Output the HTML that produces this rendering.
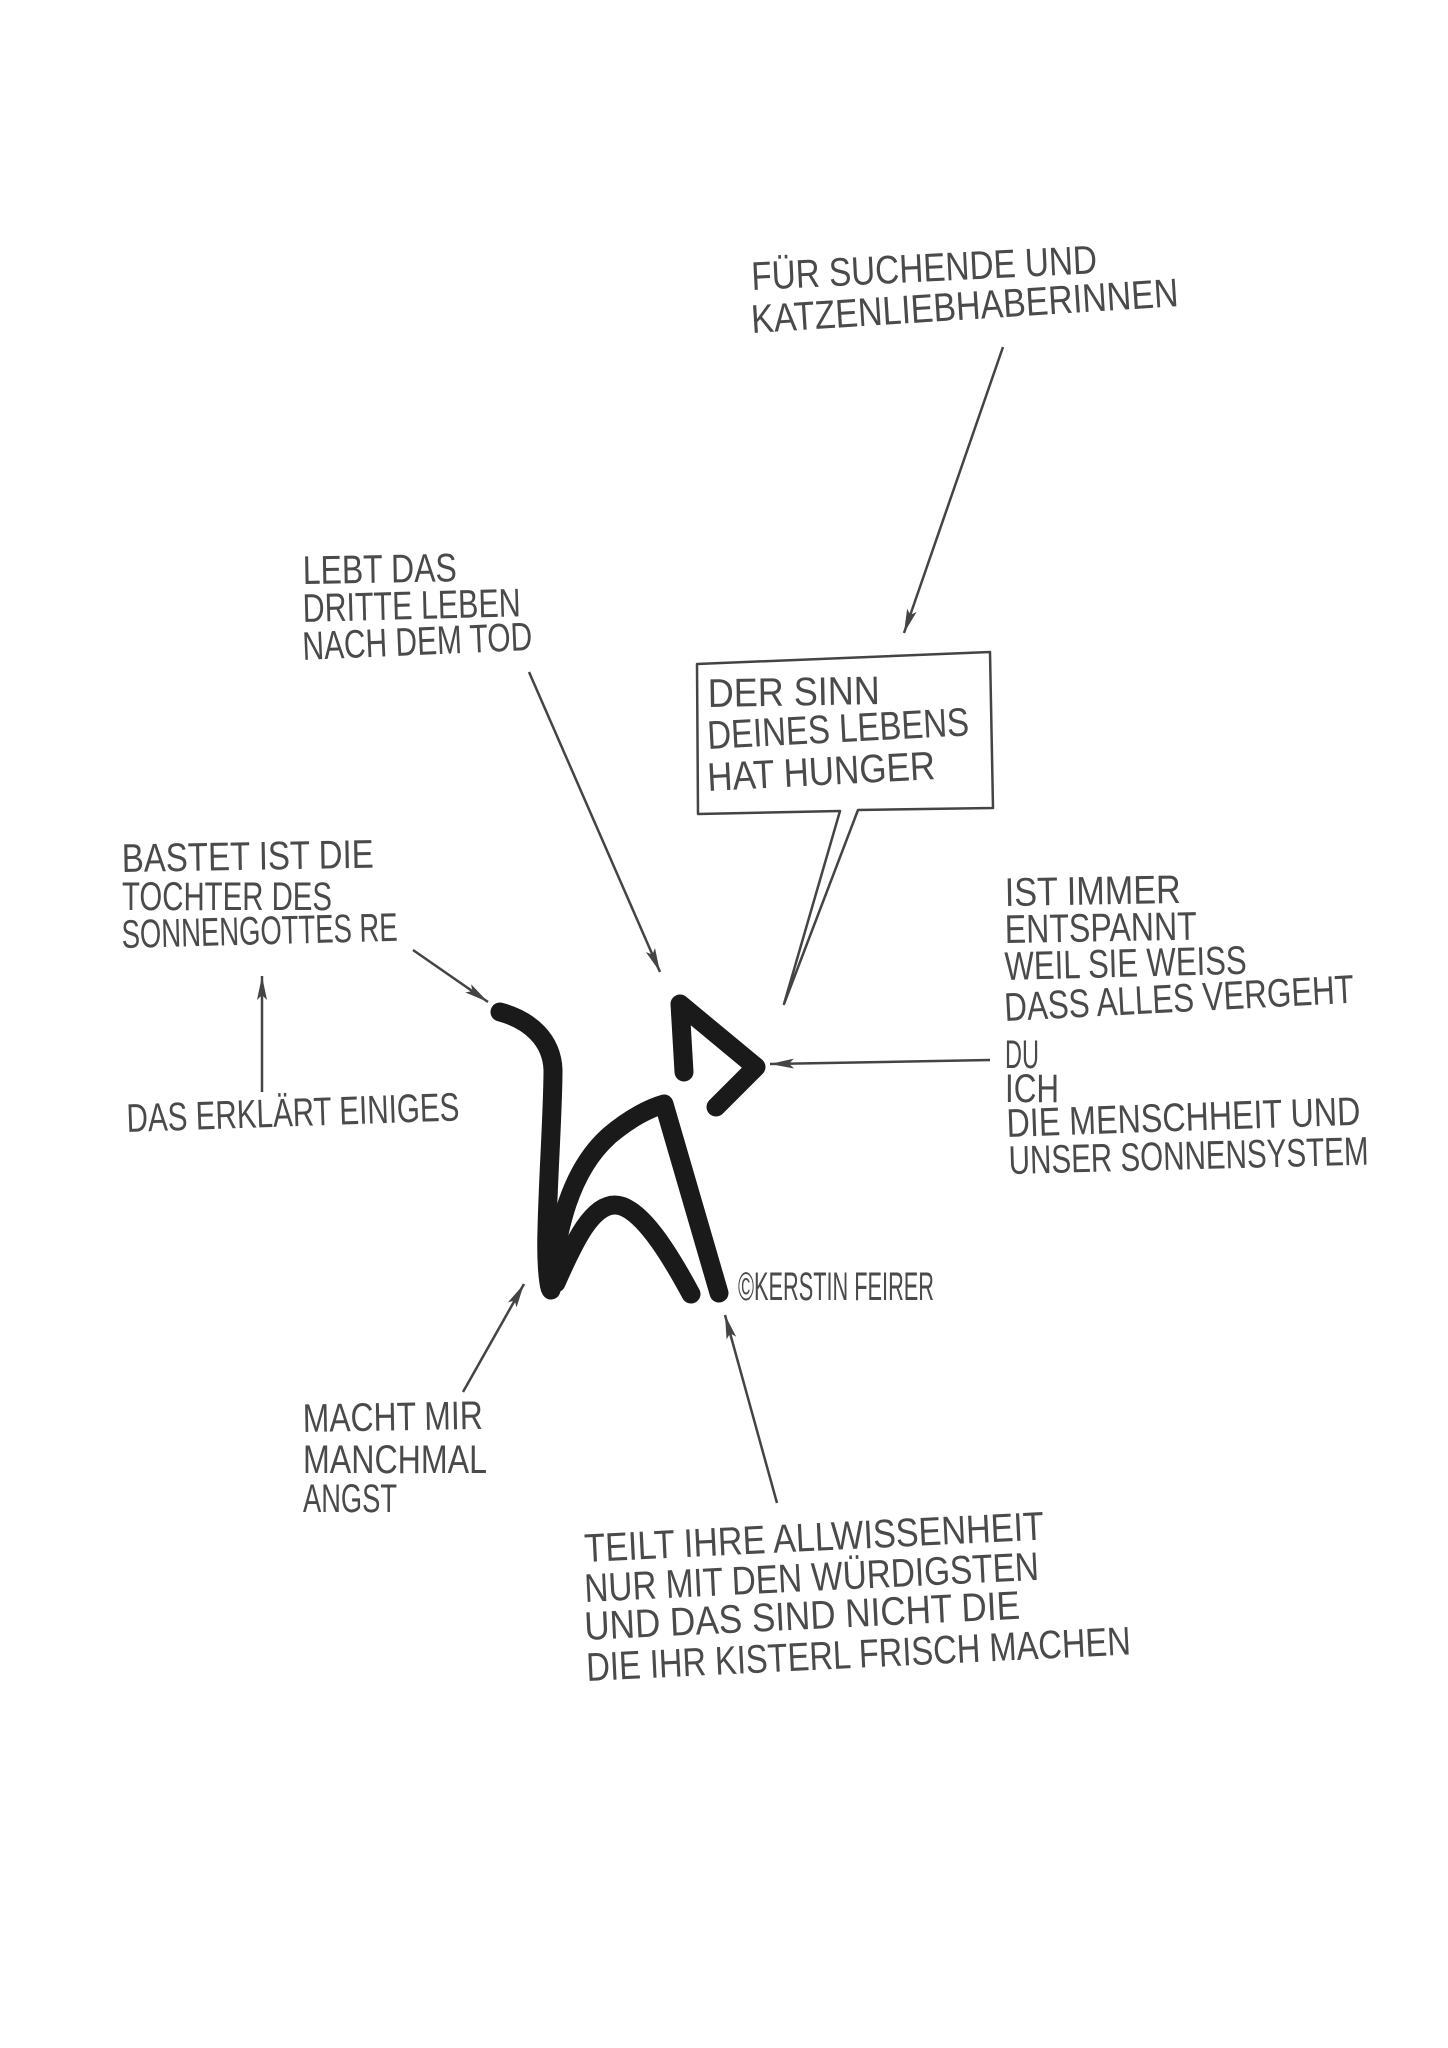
<!DOCTYPE html>
<html><head><meta charset="utf-8">
<style>
html,body{margin:0;padding:0;background:#fff;}
svg{display:block;}
text{font-family:"Liberation Sans Narrow","Liberation Sans",sans-serif;fill:#4a4a4a;font-size:40px;}
</style></head>
<body>
<svg width="1448" height="2048" viewBox="0 0 1448 2048" xmlns="http://www.w3.org/2000/svg">
<defs>
<marker id="ah" viewBox="0 0 24 10" refX="24" refY="5" markerWidth="24" markerHeight="10" markerUnits="userSpaceOnUse" orient="auto">
<path d="M0,0 L24,5 L0,10 L5,5 z" fill="#444"/>
</marker>
</defs>
<rect width="1448" height="2048" fill="#fff"/>

<text x="752" y="290" textLength="346" lengthAdjust="spacingAndGlyphs" transform="rotate(-2.8 752 290)">FÜR SUCHENDE UND</text>
<text x="752" y="333" textLength="428" lengthAdjust="spacingAndGlyphs" transform="rotate(-3.6 752 333)">KATZENLIEBHABERINNEN</text>
<line x1="1003" y1="347" x2="904" y2="633" stroke="#444" stroke-width="2.5" marker-end="url(#ah)"/>

<text x="303" y="584" textLength="154" lengthAdjust="spacingAndGlyphs" transform="rotate(-1 303 584)">LEBT DAS</text>
<text x="303" y="622" textLength="218" lengthAdjust="spacingAndGlyphs" transform="rotate(-1.5 303 622)">DRITTE LEBEN</text>
<text x="303" y="660" textLength="230" lengthAdjust="spacingAndGlyphs" transform="rotate(-2.5 303 660)">NACH DEM TOD</text>
<line x1="529" y1="672" x2="660" y2="972" stroke="#444" stroke-width="2.5" marker-end="url(#ah)"/>

<path d="M697,664 L990,652 L993,808 L858,810 L784,1004 L840,811 L698,814 Z" fill="#fff" stroke="#444" stroke-width="2.5" stroke-linejoin="round"/>
<text x="708" y="707" textLength="172" lengthAdjust="spacingAndGlyphs" transform="rotate(-1 708 707)">DER SINN</text>
<text x="708" y="749" textLength="262" lengthAdjust="spacingAndGlyphs" transform="rotate(-3 708 749)">DEINES LEBENS</text>
<text x="708" y="791" textLength="228" lengthAdjust="spacingAndGlyphs" transform="rotate(-3 708 791)">HAT HUNGER</text>

<text x="122" y="872" textLength="252" lengthAdjust="spacingAndGlyphs" transform="rotate(-1 122 872)">BASTET IST DIE</text>
<text x="122" y="910" textLength="210" lengthAdjust="spacingAndGlyphs">TOCHTER DES</text>
<text x="122" y="948" textLength="276" lengthAdjust="spacingAndGlyphs" transform="rotate(-1.5 122 948)">SONNENGOTTES RE</text>
<line x1="413" y1="950" x2="488" y2="1002" stroke="#444" stroke-width="2.5" marker-end="url(#ah)"/>
<line x1="262" y1="1092" x2="262" y2="976" stroke="#444" stroke-width="2.5" marker-end="url(#ah)"/>
<text x="127" y="1132" textLength="333" lengthAdjust="spacingAndGlyphs" font-size="36" transform="rotate(-2 127 1132)">DAS ERKLÄRT EINIGES</text>

<text x="1005" y="906" textLength="176" lengthAdjust="spacingAndGlyphs" transform="rotate(-1 1005 906)">IST IMMER</text>
<text x="1005" y="943" textLength="192" lengthAdjust="spacingAndGlyphs" transform="rotate(-1 1005 943)">ENTSPANNT</text>
<text x="1005" y="980" textLength="242" lengthAdjust="spacingAndGlyphs" transform="rotate(-1.5 1005 980)">WEIL SIE WEISS</text>
<text x="1005" y="1021" textLength="350" lengthAdjust="spacingAndGlyphs" transform="rotate(-3 1005 1021)">DASS ALLES VERGEHT</text>
<text x="1005" y="1068" textLength="34" lengthAdjust="spacingAndGlyphs">DU</text>
<text x="1005" y="1102" textLength="54" lengthAdjust="spacingAndGlyphs">ICH</text>
<text x="1007" y="1137" textLength="354" lengthAdjust="spacingAndGlyphs" transform="rotate(-2 1007 1137)">DIE MENSCHHEIT UND</text>
<text x="1009" y="1174" textLength="360" lengthAdjust="spacingAndGlyphs" transform="rotate(-1.5 1009 1174)">UNSER SONNENSYSTEM</text>
<line x1="990" y1="1060" x2="770" y2="1064" stroke="#444" stroke-width="2.5" marker-end="url(#ah)"/>

<g fill="none" stroke="#1a1a1a" stroke-width="19" stroke-linecap="round" stroke-linejoin="round">
<path d="M500,1012 C530,1020 552,1040 553,1070 C553,1110 548,1180 547,1230 C546,1260 548,1280 550,1288"/>
<path d="M551,1290 C556,1230 570,1170 610,1135 C630,1118 650,1108 664,1104 L719,1293"/>
<path d="M556,1283 C575,1240 592,1205 615,1205 C640,1205 670,1255 691,1294"/>
<path d="M684,1072 L680,1004 L756,1067 L716,1107"/>
</g>
<text x="738" y="1300" textLength="196" lengthAdjust="spacingAndGlyphs" font-size="27">©KERSTIN FEIRER</text>

<line x1="463" y1="1392" x2="524" y2="1284" stroke="#444" stroke-width="2.5" marker-end="url(#ah)"/>
<text x="303" y="1432" textLength="180" lengthAdjust="spacingAndGlyphs" font-size="44" transform="rotate(-1 303 1432)">MACHT MIR</text>
<text x="303" y="1473" textLength="184" lengthAdjust="spacingAndGlyphs" font-size="44">MANCHMAL</text>
<text x="303" y="1512" textLength="94" lengthAdjust="spacingAndGlyphs" font-size="44">ANGST</text>

<line x1="777" y1="1503" x2="725" y2="1315" stroke="#444" stroke-width="2.5" marker-end="url(#ah)"/>
<text x="585" y="1562" textLength="460" lengthAdjust="spacingAndGlyphs" transform="rotate(-2.8 585 1562)">TEILT IHRE ALLWISSENHEIT</text>
<text x="585" y="1602" textLength="455" lengthAdjust="spacingAndGlyphs" transform="rotate(-2.8 585 1602)">NUR MIT DEN WÜRDIGSTEN</text>
<text x="585" y="1640" textLength="436" lengthAdjust="spacingAndGlyphs" transform="rotate(-2.8 585 1640)">UND DAS SIND NICHT DIE</text>
<text x="587" y="1681" textLength="545" lengthAdjust="spacingAndGlyphs" transform="rotate(-2.8 587 1681)">DIE IHR KISTERL FRISCH MACHEN</text>
</svg>
</body></html>
